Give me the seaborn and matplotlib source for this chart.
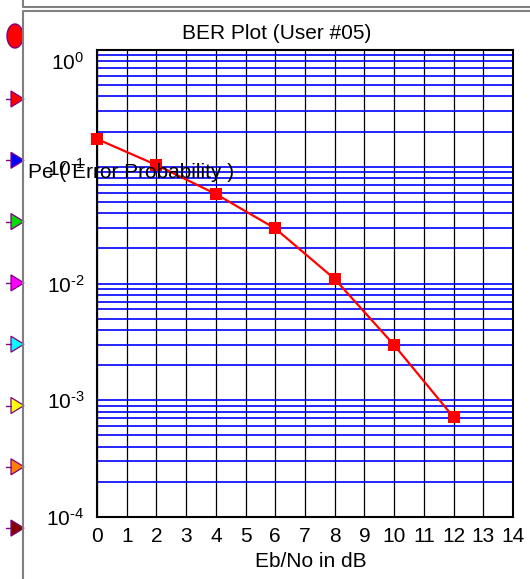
import numpy as np
import pandas as pd
import matplotlib
matplotlib.use("Agg")
import matplotlib.pyplot as plt
import matplotlib.ticker as mticker
from matplotlib.patches import Ellipse, Polygon
from matplotlib.transforms import ScaledTranslation
import seaborn as sns

# ---- data ----
snr_db = [0, 2, 4, 6, 8, 10, 12]
ber = [0.1729, 0.1035, 0.0584, 0.0296, 0.01093, 0.00297, 0.000716]
x_ticks = list(range(0, 15))
title = "BER Plot (User #05)"
x_label = "Eb/No in dB"
y_label = "Pe ( Error Probability )"
side_colors = ["#ff0000", "#0000ff", "#00dd00", "#ff00ff", "#00ffff",
               "#ffff00", "#ff8000", "#800000"]

sns.set_style("white")
plt.rcParams["font.family"] = ["Liberation Sans", "DejaVu Sans"]
plt.rcParams["mathtext.fontset"] = "custom"
plt.rcParams["mathtext.rm"] = "Liberation Sans"
plt.rcParams["mathtext.it"] = "Liberation Sans"
plt.rcParams["text.color"] = "black"
plt.rcParams["xtick.color"] = "black"
plt.rcParams["ytick.color"] = "black"
plt.rcParams["xtick.labelcolor"] = "black"
plt.rcParams["ytick.labelcolor"] = "black"

W, H = 530, 579
fig = plt.figure(figsize=(W / 100, H / 100), dpi=100)

# decoration layer in pixel coordinates
axd = fig.add_axes([0, 0, 1, 1], zorder=0)
axd.set_xlim(0, W)
axd.set_ylim(H, 0)
axd.axis("off")
gray = "#808080"
axd.plot([23, 23, W], [0, 7, 7], color=gray, lw=1.5, solid_capstyle="butt")
axd.plot([W, 23, 23], [11, 11, H], color=gray, lw=1.5, solid_capstyle="butt")
axd.add_patch(Ellipse((15, 36), 16, 24, facecolor="#ff0000", edgecolor="#800080", lw=1.0))
for i, c in enumerate(side_colors):
    yy = 99 + 61.3 * i
    axd.plot([6, 11], [yy, yy], color="#800080", lw=1.0)
    axd.add_patch(Polygon([(11, yy - 8), (24, yy), (11, yy + 8)], closed=True,
                          facecolor=c, edgecolor="#800080", lw=0.9))

# main plot
ax = fig.add_axes([97 / W, 1 - 517 / H, (513 - 97) / W, (517 - 50) / H], zorder=1)
df = pd.DataFrame({"snr": snr_db, "ber": ber})
sns.lineplot(data=df, x="snr", y="ber", ax=ax, color="#ff0000", lw=1.6,
             marker="s", markersize=8, markeredgewidth=0, zorder=5, clip_on=False)
ax.set_yscale("log")
ax.set_xlim(0, 14)
ax.set_ylim(1e-4, 1)
ax.set_xticks(x_ticks)
ax.yaxis.set_major_locator(mticker.LogLocator(base=10, numticks=10))
ax.yaxis.set_minor_locator(mticker.LogLocator(base=10, subs=np.arange(2, 10), numticks=20))
ax.yaxis.set_minor_formatter(mticker.NullFormatter())


def fmt(v, p):
    e = int(round(np.log10(v)))
    s = str(e).replace("-", "\u2010")
    return r"$10^{%s}$" % s


ax.yaxis.set_major_formatter(mticker.FuncFormatter(fmt))
ax.set_xlabel("")
ax.set_ylabel("")
ax.grid(False)
ax.grid(True, which="both", axis="y", color="#0000ff", lw=1.2)
ax.grid(True, which="major", axis="x", color="black", lw=0.9)
ax.tick_params(axis="both", which="both", length=0, labelsize=15)
ax.tick_params(axis="y", pad=9)
ax.tick_params(axis="x", pad=7)
for s in ax.spines.values():
    s.set_color("black")
    s.set_linewidth(1.5)
ax.set_axisbelow(True)

fig.canvas.draw()
for lab in ax.get_yticklabels():
    if abs(lab.get_position()[1] - 1.0) < 1e-9:
        lab.set_transform(lab.get_transform() + ScaledTranslation(0, -11 / 100, fig.dpi_scale_trans))

fig.text(276.5 / W, 1 - 39 / H, title, ha="center", va="baseline", fontsize=15, color="black")
fig.text(311 / W, 1 - 567 / H, x_label, ha="center", va="baseline", fontsize=15, color="black")
fig.text(28 / W, 1 - 178 / H, y_label, ha="left", va="baseline", fontsize=15, color="black", zorder=10)

fig.savefig("out.png", dpi=100)
